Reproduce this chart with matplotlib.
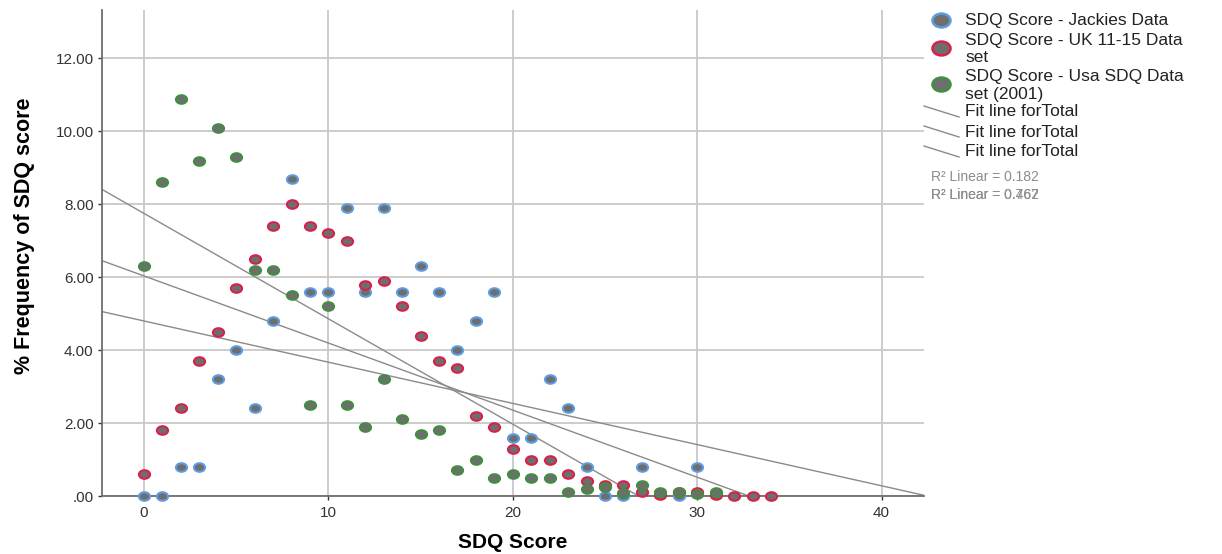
import numpy as np
import matplotlib
matplotlib.use("Agg")
import matplotlib.pyplot as plt
from matplotlib.markers import MarkerStyle
from matplotlib.transforms import Affine2D
from matplotlib.lines import Line2D

plt.rcParams["font.family"] = ["Liberation Sans", "DejaVu Sans"]

# data (SDQ score -> % frequency)
jackie_x = [0, 1, 2, 3, 4, 5, 6, 7, 8, 9, 10, 11, 12, 13, 14, 15, 16, 17, 18, 19,
            20, 21, 22, 23, 24, 25, 26, 27, 29, 30]
jackie_y = [0, 0, 0.8, 0.8, 3.2, 4.0, 2.4, 4.8, 8.7, 5.6, 5.6, 7.9, 5.6, 7.9, 5.6, 6.3,
            5.6, 4.0, 4.8, 5.6, 1.6, 1.6, 3.2, 2.4, 0.8, 0, 0, 0.8, 0, 0.8]

uk_x = list(range(0, 35))
uk_y = [0.6, 1.8, 2.4, 3.7, 4.5, 5.7, 6.5, 7.4, 8.0, 7.4, 7.2, 7.0, 5.8, 5.9, 5.2, 4.4,
        3.7, 3.5, 2.2, 1.9, 1.3, 1.0, 1.0, 0.6, 0.4, 0.3, 0.3, 0.1, 0.03, 0.1, 0.1, 0.03,
        0, 0, 0]

usa_x = list(range(0, 32))
usa_y = [6.3, 8.6, 10.9, 9.2, 10.1, 9.3, 6.2, 6.2, 5.5, 2.5, 5.2, 2.5, 1.9, 3.2, 2.1, 1.7,
         1.8, 0.7, 1.0, 0.5, 0.6, 0.5, 0.5, 0.1, 0.2, 0.25, 0.08, 0.3, 0.1, 0.1, 0.05, 0.1]

# fit lines ("Fit line forTotal"): intercept, slope
fit_intercept = [4.80, 6.035, 7.75]
fit_slope = [-0.113, -0.184, -0.289]

labels = [["SDQ Score - Jackies Data"], ["SDQ Score - UK 11-15 Data", "set"],
          ["SDQ Score - Usa SDQ Data", "set (2001)"]]
edge_colors = ["#5f9ce0", "#d8204a", "#3f8f3f"]
r2_labels = ["R² Linear = 0.182", "R² Linear = 0.762", "R² Linear = 0.467"]

W, H = 1222, 554
def fx(p):
    return p / W
def fy(p):
    return 1 - p / H

fig = plt.figure(figsize=(12.22, 5.54), dpi=100)
ax = fig.add_axes([fx(102), fy(496), (924-102)/W, (496-10)/H])

xlim = (-2.28, 42.3)
ax.set_xlim(*xlim)
ax.set_ylim(0, 13.33)

oval = MarkerStyle("o", transform=Affine2D().scale(1.3, 1.0))

xx = np.array(xlim)
for b0, b1 in zip(fit_intercept, fit_slope):
    ax.plot(xx, b0 + b1*xx, color="#8a8a8a", lw=1.0, zorder=2)

series = [(jackie_x, jackie_y), (uk_x, uk_y), (usa_x, usa_y)]
for (x, y), ec in zip(series, edge_colors):
    ax.scatter(x, y, s=38, marker=oval, facecolor="#6e6e6e", edgecolor=ec,
               linewidths=1.5, zorder=3, clip_on=False)

ax.set_xticks([0, 10, 20, 30, 40])
ax.set_yticks([0, 2, 4, 6, 8, 10, 12])
ax.set_yticklabels([".00", "2.00", "4.00", "6.00", "8.00", "10.00", "12.00"])
ax.grid(True, color="#c8c8c8", lw=1.3)
ax.set_axisbelow(True)
for s in ["top", "right"]:
    ax.spines[s].set_visible(False)
for s in ["left", "bottom"]:
    ax.spines[s].set_color("#6e6e6e")
    ax.spines[s].set_linewidth(1.3)
ax.tick_params(axis="both", labelsize=11, colors="#333333", length=3, width=1, pad=3)
ax.tick_params(axis="x", pad=4)

# axis titles
fig.text(fx(513), fy(542), "SDQ Score", fontsize=15, fontweight="bold",
         ha="center", va="center")
fig.text(fx(25), fy(236), "% Frequency of SDQ score", fontsize=15.5, fontweight="bold",
         ha="center", va="center", rotation=90)

# legend, laid out by hand in pixel positions
marker_y = [20, 48, 84]
line_y = [[20], [40, 57], [77, 94]]
for my, ec, lab, ly in zip(marker_y, edge_colors, labels, line_y):
    fig.add_artist(Line2D([fx(941)], [fy(my)], marker=oval, markersize=10,
                          markerfacecolor="#6e6e6e", markeredgecolor=ec,
                          markeredgewidth=1.8, linestyle="none"))
    for t, y in zip(lab, ly):
        fig.text(fx(965), fy(y), t, fontsize=12.5, va="center", ha="left",
                 color="#222222")

for ly in [112, 132, 152]:
    fig.add_artist(Line2D([fx(924), fx(959)], [fy(ly - 6), fy(ly + 5)],
                          color="#8a8a8a", lw=1.0))
    fig.text(fx(965), fy(ly), "Fit line forTotal", fontsize=12.5, va="center",
             ha="left", color="#222222")

fig.text(fx(931), fy(177), r2_labels[0], fontsize=10, va="center", color="#8c8c8c")
fig.text(fx(931), fy(195), r2_labels[1], fontsize=10, va="center", color="#8c8c8c")
fig.text(fx(931), fy(195), r2_labels[2], fontsize=10, va="center", color="#8c8c8c")

fig.savefig("out.png", dpi=100)
